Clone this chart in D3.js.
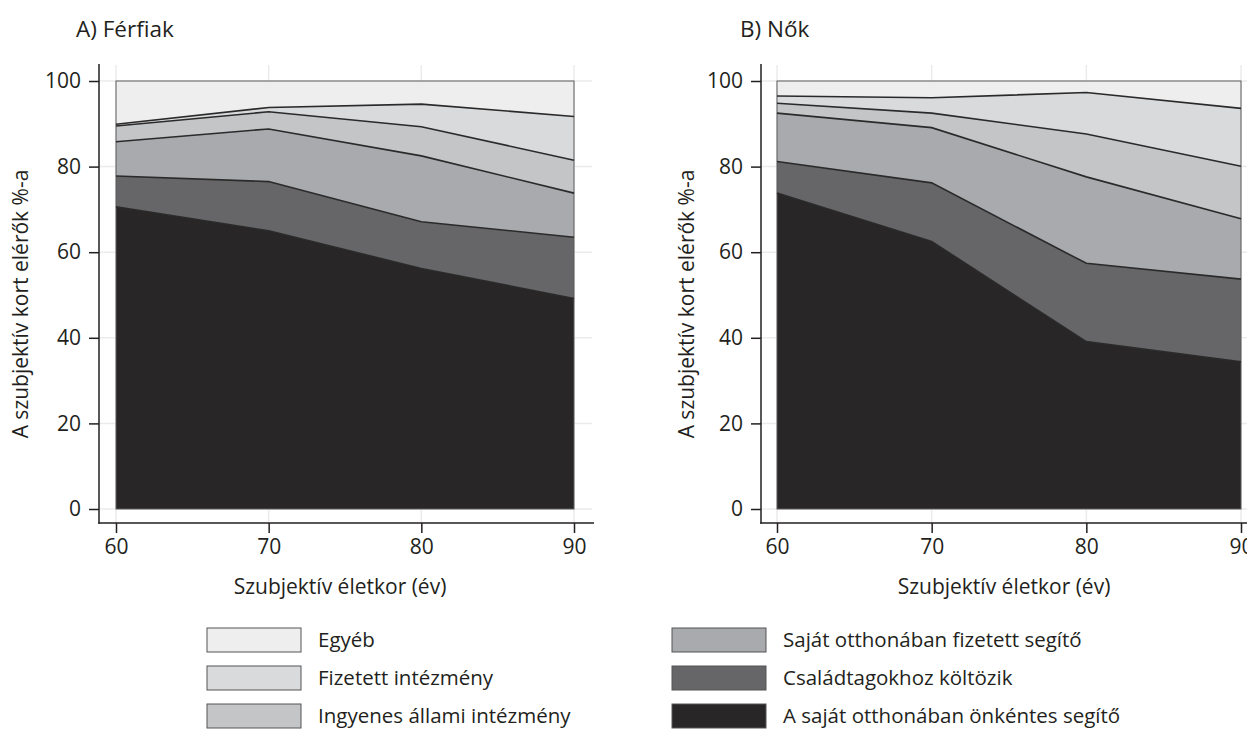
<!DOCTYPE html>
<html>
<head>
<meta charset="utf-8">
<script src="https://cdn.jsdelivr.net/npm/d3@7"></script>
<style>
  body { margin: 0; background: #fff; }
  text { font-family: "Open Sans", sans-serif; fill: #231f20; }
</style>
</head>
<body>
<svg></svg>
<script>
const width = 1247;
const height = 729;

// x categories (szubjektív életkor)
const ages = [60, 70, 80, 90];
const yTicks = [0, 20, 40, 60, 80, 100];

// stacking order: bottom -> top
const categories = [
  "A saját otthonában önkéntes segítő",
  "Családtagokhoz költözik",
  "Saját otthonában fizetett segítő",
  "Ingyenes állami intézmény",
  "Fizetett intézmény",
  "Egyéb"
];
const colors = ["#282627", "#666668", "#a9aaad", "#c4c5c7", "#d9dadc", "#eeeeee"];

// A) Férfiak, share of each category at 60, 70, 80, 90
const ferfiOnkentes   = [70.6, 65.0, 56.2, 49.2];
const ferfiCsalad     = [7.2, 11.5, 10.9, 14.3];
const ferfiFizetett   = [8.0, 12.3, 15.4, 10.3];
const ferfiIngyenes   = [3.7, 4.0, 6.8, 7.7];
const ferfiIntezmeny  = [0.4, 1.0, 5.3, 10.2];
const ferfiEgyeb      = [10.1, 6.2, 5.4, 8.3];

// B) Nők
const noOnkentes   = [73.8, 62.5, 39.1, 34.4];
const noCsalad     = [7.4, 13.7, 18.3, 19.3];
const noFizetett   = [11.3, 12.9, 20.2, 14.1];
const noIngyenes   = [2.3, 3.4, 10.0, 12.3];
const noIntezmeny  = [1.7, 3.6, 9.7, 13.5];
const noEgyeb      = [3.5, 3.9, 2.7, 6.4];

const svg = d3.select("svg").attr("width", width).attr("height", height);

const yScale = d3.scaleLinear().domain([0, 100]).range([509, 81]);
const axisTop = 64;
const axisBottomY = 523;

function drawPanel(series, cfg) {
  const x = d3.scaleLinear().domain([60, 90]).range(cfg.xRange);
  const rows = ages.map((a, i) => {
    const r = { age: a };
    series.forEach((s, k) => r[k] = s[i]);
    return r;
  });
  const stacked = d3.stack().keys(d3.range(series.length))(rows);

  const g = svg.append("g");

  // grid
  g.selectAll(".hgrid").data(yTicks).enter().append("line")
    .attr("x1", cfg.axisX).attr("x2", cfg.gridEnd)
    .attr("y1", d => yScale(d)).attr("y2", d => yScale(d))
    .attr("stroke", "#ebebeb").attr("stroke-width", 1.5);
  g.selectAll(".vgrid").data(ages).enter().append("line")
    .attr("x1", d => x(d)).attr("x2", d => x(d))
    .attr("y1", axisTop + 1).attr("y2", axisBottomY)
    .attr("stroke", "#ebebeb").attr("stroke-width", 1.5);

  const area = d3.area()
    .x((d, i) => x(ages[i]))
    .y0(d => yScale(d[0]))
    .y1(d => yScale(d[1]));

  g.selectAll(".layer").data(stacked).enter().append("path")
    .attr("d", area)
    .attr("fill", (d, i) => colors[i]);

  // outline box
  g.append("rect")
    .attr("x", x(60)).attr("y", yScale(100))
    .attr("width", x(90) - x(60)).attr("height", yScale(0) - yScale(100))
    .attr("fill", "none").attr("stroke", "#5a5a5a").attr("stroke-width", 1);

  // boundaries between layers
  const line = d3.line()
    .x((d, i) => x(ages[i]))
    .y(d => yScale(d[1]));
  g.selectAll(".edge").data(stacked.slice(0, stacked.length - 1)).enter().append("path")
    .attr("d", line)
    .attr("fill", "none").attr("stroke", "#2a2a2a").attr("stroke-width", 1.6);

  // axes
  g.append("g")
    .attr("transform", `translate(${cfg.axisX},0)`)
    .call(d3.axisLeft(yScale).tickValues(yTicks).tickSize(10).tickPadding(8))
    .call(a => a.select(".domain").remove())
    .call(a => a.selectAll("line").attr("stroke", "#231f20").attr("stroke-width", 1.5))
    .call(a => a.selectAll("text").style("font-size", "21px").attr("fill", "#231f20"));
  g.append("line")
    .attr("x1", cfg.axisX).attr("x2", cfg.axisX)
    .attr("y1", axisTop).attr("y2", axisBottomY + 0.75)
    .attr("stroke", "#231f20").attr("stroke-width", 1.5);

  g.append("g")
    .attr("transform", `translate(0,${axisBottomY})`)
    .call(d3.axisBottom(x).tickValues(ages).tickSize(10).tickPadding(6).tickFormat(d3.format("d")))
    .call(a => a.select(".domain").remove())
    .call(a => a.selectAll("line").attr("stroke", "#231f20").attr("stroke-width", 1.5))
    .call(a => a.selectAll("text").style("font-size", "21px").attr("fill", "#231f20"));
  g.append("line")
    .attr("x1", cfg.axisX - 0.75).attr("x2", cfg.axisEnd)
    .attr("y1", axisBottomY).attr("y2", axisBottomY)
    .attr("stroke", "#231f20").attr("stroke-width", 1.5);

  // titles
  g.append("text")
    .attr("x", cfg.titleX).attr("y", 37)
    .style("font-size", "22.5px")
    .text(cfg.title);

  g.append("text")
    .attr("transform", `translate(${cfg.ylabelX},304) rotate(-90)`)
    .attr("text-anchor", "middle")
    .style("font-size", "21px")
    .text("A szubjektív kort elérők %-a");

  g.append("text")
    .attr("x", (x(60) + x(90)) / 2 - 5).attr("y", 594)
    .attr("text-anchor", "middle")
    .style("font-size", "21px")
    .text("Szubjektív életkor (év)");
}

drawPanel([ferfiOnkentes, ferfiCsalad, ferfiFizetett, ferfiIngyenes, ferfiIntezmeny, ferfiEgyeb], {
  xRange: [116, 574], axisX: 99, gridEnd: 592, axisEnd: 594,
  title: "A) Férfiak", titleX: 76, ylabelX: 28
});

drawPanel([noOnkentes, noCsalad, noFizetett, noIngyenes, noIntezmeny, noEgyeb], {
  xRange: [777, 1241], axisX: 761, gridEnd: 1247, axisEnd: 1247,
  title: "B) Nők", titleX: 740, ylabelX: 694
});

// Legend
const legendOrder = [5, 4, 3, 2, 1, 0];
const legend = svg.append("g");
legendOrder.forEach((k, i) => {
  const col = Math.floor(i / 3);
  const row = i % 3;
  const lx = col === 0 ? 207 : 672;
  const ly = 640 + row * 38;
  legend.append("rect")
    .attr("x", lx).attr("y", ly - 12)
    .attr("width", 94).attr("height", 24)
    .attr("fill", colors[k])
    .attr("stroke", "#555").attr("stroke-width", 1);
  legend.append("text")
    .attr("x", lx + 111).attr("y", ly)
    .attr("dy", "0.35em")
    .style("font-size", "20.5px")
    .text(categories[k]);
});
</script>
</body>
</html>
